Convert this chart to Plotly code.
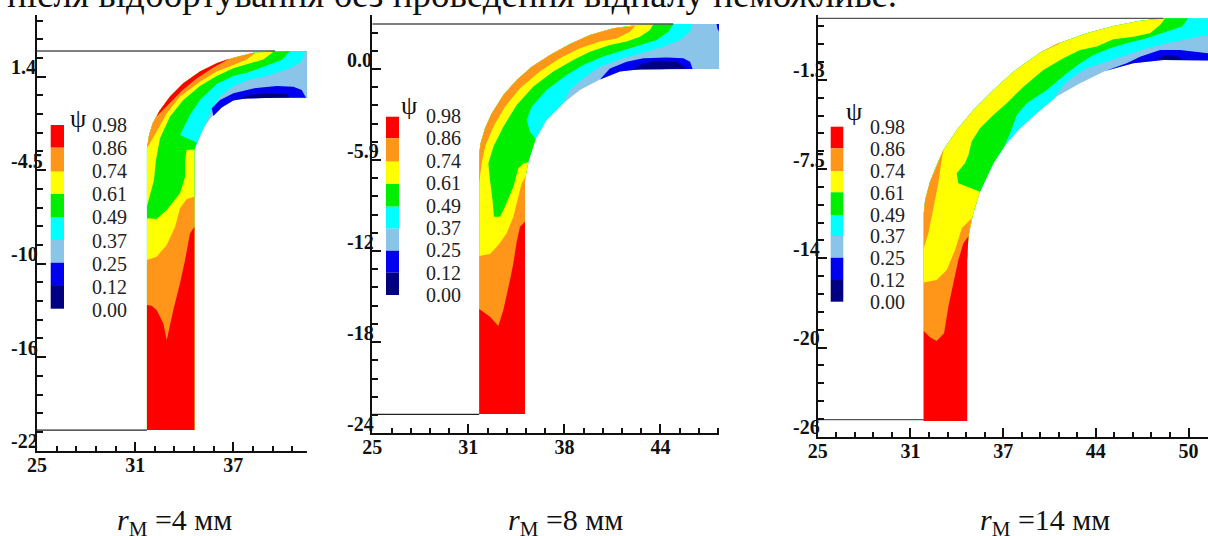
import plotly.graph_objects as go

W, H = 1208, 536
SERIF = "Liberation Serif"

LEVEL_LABELS = ["0.98", "0.86", "0.74", "0.61", "0.49", "0.37", "0.25", "0.12", "0.00"]
LEGEND_COLORS = ["#FF0000", "#FF961A", "#FFFF00", "#00EE00", "#00FFFF", "#8AC4E8", "#0000F0", "#000080"]
RED, ORANGE, YELLOW, GREEN, CYAN, LIGHT, BLUE, NAVY = LEGEND_COLORS
HEADER = "після відбортування без проведення відпалу неможливе."

# ---------- panel 1 (r = 4 mm)
P1_XTICKS = [25, 31, 37]
P1_XLABELS = ["25", "31", "37"]
P1_YTICKS = [1.4, -4.5, -10.4, -16.3, -22.2]
P1_YLABELS = ["1.4", "-4.5", "-10", "-16", "-22"]
P1_RING_X = [31.72, 31.72, 31.85, 32.07, 32.48, 33.13, 33.94, 34.96, 35.98, 37.0, 38.22, 39.65, 41.52, 41.52, 39.45, 37.82, 37.0, 36.29, 35.68, 35.17, 34.86, 34.62, 34.62]
P1_RING_Y = [-20.9, -3.12, -2.28, -1.54, -0.77, 0.14, 0.98, 1.72, 2.24, 2.6, 2.91, 3.02, 3.02, 0.03, 0.07, 0.03, -0.11, -0.54, -1.12, -1.86, -2.6, -3.23, -20.9]
P1_C37_X = [41.38, 41.18, 40.46, 39.04, 37.92, 37.0, 36.19, 35.68, 35.27]
P1_C37_Y = [2.98, 2.35, 1.93, 1.44, 1.19, 0.81, 0.14, -0.70, -1.65]
P1_C49_X = [40.46, 39.96, 39.04, 37.92, 37.0, 35.98, 34.96, 34.35, 33.74, 34.76]
P1_C49_Y = [3.02, 2.45, 2.09, 1.67, 1.44, 0.94, -0.07, -1.02, -2.28, -2.76]
P1_C61A_X = [39.45, 39.34, 38.83, 38.02, 37.0, 35.98, 34.96, 33.94, 33.13, 32.52, 32.27, 32.15, 31.81, 31.72]
P1_C61A_Y = [2.98, 2.87, 2.49, 2.24, 1.93, 1.44, 0.81, -0.07, -1.12, -2.49, -3.86, -5.12, -6.38, -6.8]
P1_C61B_X = [31.72, 32.31, 32.93, 33.74, 34.05, 34.05, 34.15, 34.62]
P1_C61B_Y = [-7.54, -7.58, -7.01, -5.96, -4.91, -3.86, -3.23, -3.19]
P1_C74A_X = [38.33, 37.82, 37.0, 35.98, 34.96, 33.74, 32.93, 32.31]
P1_C74A_Y = [2.87, 2.49, 2.14, 1.72, 1.08, 0.14, -0.91, -2.07]
P1_C74B_X = [31.72, 32.31, 32.93, 33.44, 33.74, 34.15, 34.62]
P1_C74B_Y = [-10.17, -9.96, -9.22, -8.07, -6.91, -6.32, -6.17]
P1_C86A_X = [36.8, 35.78, 34.76, 33.90, 33.13, 32.31]
P1_C86A_Y = [2.56, 1.97, 1.29, 0.56, -0.28, -1.12]
P1_C86B_X = [34.62, 34.35, 34.05, 33.74, 33.33, 32.93, 32.72, 32.31, 32.01, 31.72]
P1_C86B_Y = [-8.07, -8.49, -10.17, -11.64, -13.32, -15.22, -14.17, -13.32, -13.05, -13.01]
P1_BLUE_X = [35.68, 36.19, 37.0, 38.22, 39.65, 40.67, 41.18, 41.44, 39.45, 37.82, 37.0, 36.29, 35.78]
P1_BLUE_Y = [-0.60, -0.07, 0.35, 0.66, 0.81, 0.77, 0.56, 0.07, 0.07, 0.03, -0.11, -0.54, -1.08]
P1_NAVY_X = [37.31, 37.92, 39.04, 40.26, 40.46, 39.04]
P1_NAVY_Y = [0.01, 0.24, 0.35, 0.31, 0.10, 0.05]
P1_TOP_LINE_X, P1_TOP_LINE_Y = [25, 39.55], [3.02, 3.02]
P1_BASE_LINE_X, P1_BASE_LINE_Y = [25, 31.72], [-20.9, -20.9]

# ---------- panel 2 (r = 8 mm)
P2_XTICKS = [25, 31.33, 37.67, 44]
P2_XLABELS = ["25", "31", "38", "44"]
P2_YTICKS = [0.0, -5.95, -11.9, -17.86, -23.81]
P2_YLABELS = ["0.0", "-5.9", "-12", "-18", "-24"]
P2_RING_X = [32.05, 32.05, 32.14, 32.43, 32.87, 33.64, 34.52, 35.51, 36.71, 38.03, 39.35, 40.89, 42.43, 43.53, 47.86, 47.86, 42.65, 41.33, 40.01, 38.69, 37.59, 36.49, 35.73, 35.29, 35.07, 35.07]
P2_RING_Y = [-22.55, -5.51, -4.86, -3.88, -2.90, -1.70, -0.72, 0.15, 0.92, 1.63, 2.22, 2.66, 2.88, 2.94, 2.94, 0.0, -0.02, -0.17, -0.68, -1.37, -2.24, -3.33, -4.64, -6.06, -7.25, -22.55]
P2_C37_X = [46.10, 45.95, 45.29, 44.19, 42.65, 41.33, 40.01, 38.91, 38.03]
P2_C37_Y = [2.94, 2.44, 1.90, 1.46, 1.02, 0.63, 0.15, -0.61, -1.37]
P2_C49_X = [44.85, 44.52, 43.75, 42.65, 41.55, 40.23, 38.91, 37.81, 36.49, 35.51, 35.18, 35.40, 35.77]
P2_C49_Y = [2.94, 2.44, 1.90, 1.57, 1.24, 0.81, 0.26, -0.39, -1.37, -2.46, -3.33, -4.10, -4.60]
P2_C61_X = [43.53, 43.31, 42.65, 41.77, 40.67, 39.35, 38.25, 36.93, 35.62, 34.52, 33.64, 32.98, 32.65, 32.76, 32.93, 33.02, 33.42, 33.75, 34.30, 34.63, 34.96, 35.29]
P2_C61_Y = [2.94, 2.55, 2.11, 1.79, 1.57, 1.13, 0.59, -0.17, -1.15, -2.35, -3.77, -5.08, -6.17, -7.25, -8.56, -9.65, -9.65, -9.0, -7.69, -6.49, -6.17, -6.10]
P2_C74A_X = [42.32, 41.99, 41.11, 40.01, 38.69, 37.37, 36.05, 34.74, 33.75, 32.98, 32.43, 32.21, 32.10, 32.05]
P2_C74A_Y = [2.81, 2.44, 2.0, 1.79, 1.35, 0.70, -0.17, -1.26, -2.46, -3.77, -5.08, -6.17, -7.36, -7.43]
P2_C74B_X = [32.05, 32.76, 33.31, 33.86, 34.30, 34.63, 34.85, 35.07]
P2_C74B_Y = [-12.22, -12.09, -11.5, -10.74, -9.65, -8.34, -7.47, -7.10]
P2_C86_X = [35.07, 34.74, 34.52, 34.30, 34.08, 33.64, 33.31, 32.76, 32.05]
P2_C86_Y = [-9.98, -10.31, -11.29, -12.70, -13.79, -15.75, -16.80, -16.19, -15.69]
P2_BLUE_X = [40.01, 40.67, 41.77, 42.87, 44.41, 45.51, 45.95, 46.12, 42.65, 41.33]
P2_BLUE_Y = [-0.68, 0.04, 0.48, 0.70, 0.76, 0.70, 0.48, 0.0, -0.02, -0.17]
P2_NAVY_X = [42.21, 42.87, 43.97, 45.07, 45.73, 43.97]
P2_NAVY_Y = [-0.04, 0.37, 0.54, 0.48, 0.04, -0.02]
P2_CORNER_X = [47.70, 47.86, 47.86, 47.75]
P2_CORNER_Y = [2.94, 2.94, 2.44, 2.66]
P2_TOP_LINE_X, P2_TOP_LINE_Y = [25, 44.85], [2.94, 2.94]
P2_BASE_LINE_X, P2_BASE_LINE_Y = [25, 32.05], [-22.57, -22.57]

# ---------- panel 3 (r = 14 mm)
P3_XTICKS = [25, 31.25, 37.5, 43.75, 50]
P3_XLABELS = ["25", "31", "37", "44", "50"]
P3_YTICKS = [-1.3, -7.42, -13.54, -19.67, -25.79]
P3_YLABELS = ["-1.3", "-7.5", "-14", "-20", "-26"]
P3_RING_X = [32.15, 32.15, 32.24, 32.57, 33.02, 33.47, 34.37, 35.49, 36.84, 38.19, 39.99, 41.34, 43.13, 44.93, 46.73, 48.30, 51.31, 51.31, 48.30, 46.28, 44.37, 42.69, 41.11, 39.76, 38.64, 37.74, 36.84, 35.94, 35.49, 35.16, 35.07, 35.07]
P3_RING_Y = [-24.71, -10.45, -9.54, -8.28, -7.14, -6.11, -4.73, -3.36, -1.99, -0.73, 0.58, 1.26, 1.90, 2.41, 2.77, 2.93, 2.93, 0.03, 0.07, -0.16, -0.68, -1.53, -2.44, -3.59, -4.62, -5.65, -7.02, -8.97, -10.45, -12.05, -13.66, -24.71]
P3_C37_X = [51.31, 49.88, 48.53, 47.18, 45.83, 44.48, 43.13, 42.24, 41.56, 41.0]
P3_C37_Y = [1.79, 1.49, 1.22, 0.87, 0.42, -0.04, -0.50, -1.07, -1.64, -2.44]
P3_C49_X = [49.99, 49.54, 48.53, 47.18, 45.83, 44.71, 43.58, 42.69, 41.79, 40.44, 39.09, 38.42, 37.97, 37.56]
P3_C49_Y = [2.93, 2.36, 2.02, 1.56, 1.22, 0.87, 0.42, -0.16, -0.84, -1.99, -2.90, -3.70, -4.96, -5.88]
P3_C61_X = [48.42, 48.08, 47.40, 46.28, 44.93, 43.81, 42.69, 41.56, 40.21, 38.87, 37.74, 36.84, 35.94, 35.38, 35.16, 34.93, 34.37, 34.48, 35.94]
P3_C61_Y = [2.93, 2.48, 1.90, 1.67, 1.49, 0.99, 0.76, 0.19, -0.61, -1.76, -2.90, -3.70, -4.62, -5.53, -6.45, -7.02, -7.71, -8.39, -8.97]
P3_C74A_X = [33.36, 33.13, 32.91, 32.69, 32.46, 32.15]
P3_C74A_Y = [-6.79, -8.39, -9.54, -10.68, -11.83, -12.86]
P3_C74S_X = [39.99, 41.34, 41.22]
P3_C74S_Y = [0.60, 1.29, 1.15]
P3_C74B_X = [35.38, 34.71, 34.26, 33.70, 33.02, 32.15]
P3_C74B_Y = [-10.80, -11.48, -12.97, -14.34, -15.03, -15.21]
P3_C86_X = [35.22, 34.82, 34.48, 34.15, 33.81, 33.52, 33.02, 32.57, 32.15]
P3_C86_Y = [-11.94, -12.51, -13.66, -15.26, -16.86, -18.69, -19.22, -18.97, -18.53]
P3_BLUE_X = [44.37, 45.83, 46.73, 48.08, 49.43, 51.31, 51.31, 48.30, 46.28]
P3_BLUE_Y = [-0.68, -0.16, 0.30, 0.76, 0.76, 0.53, 0.03, 0.07, -0.16]
P3_NAVY_X = [47.85, 48.53, 49.20, 49.65]
P3_NAVY_Y = [0.12, 0.42, 0.35, 0.07]
P3_TOP_LINE_X, P3_TOP_LINE_Y = [25, 48.3], [2.93, 2.93]
P3_BASE_LINE_X, P3_BASE_LINE_Y = [25, 32.15], [-24.62, -24.62]


def minors(ticks, lo, hi):
    step = (ticks[1] - ticks[0]) / 5
    out = []
    for k in range(-60, 60):
        v = ticks[0] + k * step
        if lo <= v <= hi and k % 5 != 0:
            out.append(round(v, 3))
    return out


fig = go.Figure()


def area(ax, ay, color, xs, ys):
    fig.add_trace(go.Scatter(x=xs, y=ys, mode="lines", fill="toself", fillcolor=color,
                             line=dict(width=0, color=color), hoverinfo="skip",
                             showlegend=False, xaxis=ax, yaxis=ay))


def thin(ax, ay, color, xs, ys):
    fig.add_trace(go.Scatter(x=xs, y=ys, mode="lines", line=dict(width=1.4, color=color),
                             hoverinfo="skip", showlegend=False, xaxis=ax, yaxis=ay))


# panel 1
a = ("x", "y")
RX, RY = P1_RING_X, P1_RING_Y
area(*a, LIGHT, RX, RY)
area(*a, CYAN, RX[:12] + P1_C37_X + RX[19:], RY[:12] + P1_C37_Y + RY[19:])
area(*a, GREEN, RX[:11] + P1_C49_X + RX[21:], RY[:11] + P1_C49_Y + RY[21:])
area(*a, YELLOW, RX[1:11] + P1_C61A_X, RY[1:11] + P1_C61A_Y)
area(*a, YELLOW, P1_C61B_X + RX[22:] + RX[:1], P1_C61B_Y + RY[22:] + RY[:1])
area(*a, ORANGE, RX[1:11] + P1_C74A_X, RY[1:11] + P1_C74A_Y)
area(*a, ORANGE, P1_C74B_X + RX[22:] + RX[:1], P1_C74B_Y + RY[22:] + RY[:1])
area(*a, RED, RX[4:9] + P1_C86A_X, RY[4:9] + P1_C86A_Y)
area(*a, RED, P1_C86B_X + RX[:1] + RX[22:], P1_C86B_Y + RY[:1] + RY[22:])
area(*a, BLUE, P1_BLUE_X, P1_BLUE_Y)
area(*a, NAVY, P1_NAVY_X, P1_NAVY_Y)
thin(*a, "#555555", P1_TOP_LINE_X, P1_TOP_LINE_Y)
thin(*a, "#222222", P1_BASE_LINE_X, P1_BASE_LINE_Y)

# panel 2
a = ("x2", "y2")
RX, RY = P2_RING_X, P2_RING_Y
area(*a, LIGHT, RX, RY)
area(*a, CYAN, RX[:14] + P2_C37_X + RX[20:], RY[:14] + P2_C37_Y + RY[20:])
area(*a, GREEN, RX[:14] + P2_C49_X + RX[23:], RY[:14] + P2_C49_Y + RY[23:])
area(*a, YELLOW, RX[:13] + P2_C61_X + RX[24:], RY[:13] + P2_C61_Y + RY[24:])
area(*a, ORANGE, RX[1:12] + P2_C74A_X, RY[1:12] + P2_C74A_Y)
area(*a, ORANGE, P2_C74B_X + RX[25:] + RX[:1], P2_C74B_Y + RY[25:] + RY[:1])
area(*a, RED, P2_C86_X + RX[:1] + RX[25:], P2_C86_Y + RY[:1] + RY[25:])
area(*a, BLUE, P2_BLUE_X, P2_BLUE_Y)
area(*a, NAVY, P2_NAVY_X, P2_NAVY_Y)
area(*a, BLUE, P2_CORNER_X, P2_CORNER_Y)
thin(*a, "#555555", P2_TOP_LINE_X, P2_TOP_LINE_Y)
thin(*a, "#222222", P2_BASE_LINE_X, P2_BASE_LINE_Y)

# panel 3
a = ("x3", "y3")
RX, RY = P3_RING_X, P3_RING_Y
area(*a, LIGHT, RX, RY)
area(*a, CYAN, RX[:17] + P3_C37_X + RX[22:], RY[:17] + P3_C37_Y + RY[22:])
area(*a, GREEN, RX[:16] + P3_C49_X + RX[26:], RY[:16] + P3_C49_Y + RY[26:])
area(*a, YELLOW, RX[:16] + P3_C61_X + RX[27:], RY[:16] + P3_C61_Y + RY[27:])
area(*a, ORANGE, RX[1:6] + P3_C74A_X, RY[1:6] + P3_C74A_Y)
area(*a, ORANGE, P3_C74S_X, P3_C74S_Y)
area(*a, ORANGE, P3_C74B_X + RX[:1] + RX[31:] + [RX[30], RX[29]], P3_C74B_Y + RY[:1] + RY[31:] + [RY[30], RY[29]])
area(*a, RED, P3_C86_X + RX[:1] + RX[31:] + [RX[30], RX[29]], P3_C86_Y + RY[:1] + RY[31:] + [RY[30], RY[29]])
area(*a, BLUE, P3_BLUE_X, P3_BLUE_Y)
area(*a, NAVY, P3_NAVY_X, P3_NAVY_Y)
thin(*a, "#555555", P3_TOP_LINE_X, P3_TOP_LINE_Y)
thin(*a, "#555555", P3_BASE_LINE_X, P3_BASE_LINE_Y)


def axis_common():
    return dict(showline=True, linewidth=2, linecolor="#111111", ticks="inside", tickwidth=2,
                ticklen=9, tickcolor="#111111", showgrid=False, zeroline=False, fixedrange=True)


panels = [
    dict(s="", px=(37, 307.3), py=(450.7, 15), xr=(25, 41.52), yr=(-22.2, 5.29),
         xt=P1_XTICKS, xl=P1_XLABELS, yt=P1_YTICKS, yl=P1_YLABELS, ylab_x=9,
         bar=(50.7, 64), stops=[125, 147.7, 171.7, 194, 217.7, 240, 262.7, 286, 308.7],
         lab_x=90, lab_top=125, lab_step=23.1, psi=(77.7, 119),
         foot_x=115, foot="4"),
    dict(s="2", px=(372.3, 719), py=(433.3, 15), xr=(25, 47.86), yr=(-23.81, 3.53),
         xt=P2_XTICKS, xl=P2_XLABELS, yt=P2_YTICKS, yl=P2_YLABELS, ylab_x=344.7,
         bar=(386, 399), stops=[116.7, 138.3, 161.7, 184, 206.7, 228.7, 250.7, 272.7, 295],
         lab_x=424, lab_top=116, lab_step=22.4, psi=(409.3, 105),
         foot_x=506, foot="8"),
    dict(s="3", px=(817.7, 1208), py=(436.7, 15), xr=(25, 51.31), yr=(-25.79, 3.16),
         xt=P3_XTICKS, xl=P3_XLABELS, yt=P3_YTICKS, yl=P3_YLABELS, ylab_x=790.7,
         bar=(830.7, 843.3), stops=[126.7, 148.3, 171, 192.3, 215, 236, 257.7, 280, 301.7],
         lab_x=868, lab_top=126.7, lab_step=21.95, psi=(854, 112),
         foot_x=978, foot="14"),
]

shapes, annotations = [], []
axes = {}
for p in panels:
    s = p["s"]
    xa = axis_common()
    xa.update(domain=[p["px"][0] / W, min(p["px"][1] / W, 1)], range=list(p["xr"]), anchor="y" + s,
              tickmode="array", tickvals=p["xt"], ticktext=p["xl"],
              tickfont=dict(family=SERIF, size=20, color="#111111", weight="bold"),
              ticklabelstandoff=-5,
              minor=dict(tickmode="array", tickvals=minors(p["xt"], *p["xr"]), ticks="inside",
                         ticklen=5, tickwidth=1.5, tickcolor="#111111", showgrid=False))
    ya = axis_common()
    ya.update(domain=[1 - p["py"][0] / H, 1 - p["py"][1] / H], range=list(p["yr"]), anchor="x" + s,
              tickmode="array", tickvals=p["yt"], showticklabels=False,
              minor=dict(tickmode="array", tickvals=minors(p["yt"], *p["yr"]), ticks="inside",
                         ticklen=6, tickwidth=1.5, tickcolor="#111111", showgrid=False))
    axes["xaxis" + s] = xa
    axes["yaxis" + s] = ya
    for v, t in zip(p["yt"], p["yl"]):
        annotations.append(dict(text="<b>%s</b>" % t, xref="paper", yref="y" + s, x=p["ylab_x"] / W, y=v,
                                xanchor="left", yanchor="middle", yshift=9.5, showarrow=False,
                                font=dict(family=SERIF, size=20, color="#111111")))
    for i, col in enumerate(LEGEND_COLORS):
        shapes.append(dict(type="rect", xref="paper", yref="paper", x0=p["bar"][0] / W, x1=p["bar"][1] / W,
                           y0=1 - p["stops"][i] / H, y1=1 - p["stops"][i + 1] / H,
                           fillcolor=col, line=dict(width=0)))
    for i, t in enumerate(LEVEL_LABELS):
        annotations.append(dict(text=t, xref="paper", yref="paper", x=p["lab_x"] / W,
                                y=1 - (p["lab_top"] + i * p["lab_step"]) / H,
                                xanchor="left", yanchor="middle", showarrow=False,
                                font=dict(family=SERIF, size=20, color="#222222")))
    annotations.append(dict(text="ψ", xref="paper", yref="paper", x=p["psi"][0] / W, y=1 - p["psi"][1] / H,
                            xanchor="center", yanchor="middle", showarrow=False,
                            font=dict(family=SERIF, size=26, color="#111111")))
    annotations.append(dict(text="<i>r</i><sub>М</sub> =%s мм" % p["foot"], xref="paper", yref="paper",
                            x=p["foot_x"] / W, y=1 - 522 / H, xanchor="left", yanchor="middle", showarrow=False,
                            font=dict(family=SERIF, size=30, color="#111111")))

annotations.append(dict(text=HEADER, xref="paper", yref="paper", x=5 / W, y=1 + 5.5 / H, xanchor="left",
                        yanchor="middle", showarrow=False, font=dict(family=SERIF, size=37, color="#111111")))

fig.update_layout(width=W, height=H, margin=dict(l=0, r=0, t=0, b=0, autoexpand=False), paper_bgcolor="white", plot_bgcolor="white",
                  showlegend=False, shapes=shapes, annotations=annotations, **axes)
fig.write_html("out.html", config=dict(displayModeBar=False),
               post_script="document.body.style.margin='0';document.body.style.overflow='hidden';")
